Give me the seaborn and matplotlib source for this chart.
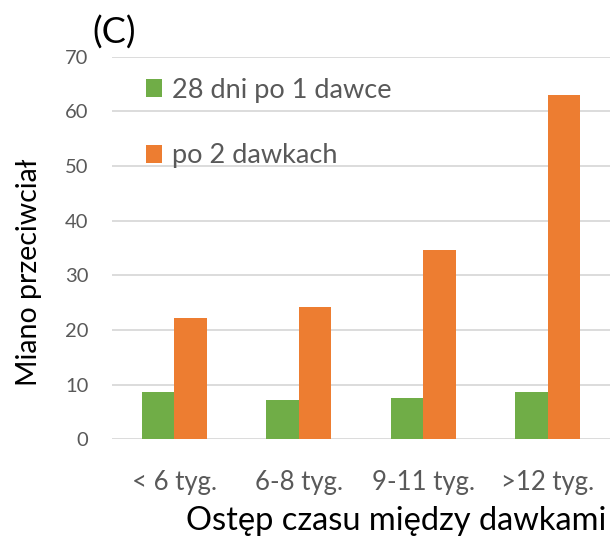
import pandas as pd
import matplotlib.pyplot as plt
import seaborn as sns

# dane
kategorie = ["< 6 tyg.", "6-8 tyg.", "9-11 tyg.", ">12 tyg."]
po_1_dawce = [8.6, 7.1, 7.5, 8.6]
po_2_dawkach = [22.2, 24.3, 34.6, 63.1]
serie = ["28 dni po 1 dawce", "po 2 dawkach"]
kolory = ["#70AD47", "#ED7D31"]

df = pd.DataFrame({
    "odstep": kategorie * 2,
    "miano": po_1_dawce + po_2_dawkach,
    "seria": [serie[0]] * 4 + [serie[1]] * 4,
})

sns.set_theme(style="white")
plt.rcParams['font.family'] = ['Lato', 'DejaVu Sans']
szary = "#595959"

fig = plt.figure(figsize=(6.13, 5.41), dpi=100)
ax = fig.add_axes([0.183, 0.188, 0.812, 0.707])

sns.barplot(data=df, x="odstep", y="miano", hue="seria", palette=kolory,
            width=0.52, gap=0, saturation=1, ax=ax, edgecolor="none")

ax.set_ylim(0, 70)
ax.set_yticks(range(0, 71, 10))
ax.set_xlim(-0.5, 3.5)
ax.yaxis.grid(True, color="#d9d9d9", linewidth=1.3)
ax.set_axisbelow(True)
for s in ax.spines.values():
    s.set_visible(False)
ax.tick_params(axis="both", length=0, colors=szary)
ax.tick_params(axis="y", labelsize=14.5, pad=17)
ax.tick_params(axis="x", labelsize=18.5, pad=22)
for t in ax.get_xticklabels():
    t.set_color(szary)

ax.set_xlabel("Ostęp czasu między dawkami", fontsize=23.5, color="black")
ax.xaxis.set_label_coords(0.571, -0.175)
ax.set_ylabel("")
fig.text(0.048, 1 - 272 / 541, "Miano przeciwciał", rotation=90,
         fontsize=20.5, color="black", ha="center", va="center")
fig.text(0.150, 1 - 33 / 541, "(C)", fontsize=26, color="black",
         ha="left", va="center")

leg = ax.legend(loc="upper left", bbox_to_anchor=(0.018, 1.009), frameon=False,
                fontsize=19.5, handlelength=0.62, handleheight=0.62,
                handletextpad=0.35, labelspacing=1.5)
for t in leg.get_texts():
    t.set_color(szary)

fig.savefig("out.png", dpi=100)
